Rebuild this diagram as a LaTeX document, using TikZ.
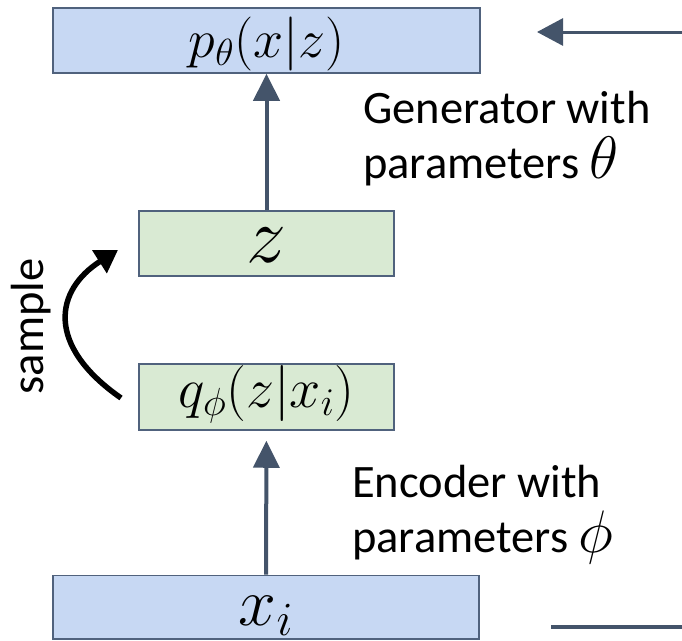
\RequirePackage{fix-cm}
\documentclass[tikz,border=0pt]{standalone}
\usepackage{fontspec}
\setmainfont{Carlito}
\usetikzlibrary{arrows.meta}

\definecolor{boxblue}{HTML}{C7D8F3}
\definecolor{boxgreen}{HTML}{D9EAD3}
\definecolor{edgeslate}{HTML}{50627D}
\definecolor{arrowslate}{HTML}{44546A}

\newcommand{\bigtext}{\fontsize{46.5}{55}\selectfont}

\begin{document}
\begin{tikzpicture}[x=1pt, y=-1pt,
  varbox/.style={draw=edgeslate, line width=1.5pt, inner sep=0pt, align=center},
  bluebox/.style={varbox, fill=boxblue},
  greenbox/.style={varbox, fill=boxgreen},
  flow/.style={draw=arrowslate, line width=4pt, -{Triangle[length=27pt, width=26pt]}},
  sidetext/.style={anchor=base west, inner sep=0pt, font=\bigtext},
  samplearrow/.style={draw=black, line width=5.5pt, -{Triangle[length=22pt, width=26pt]}}
]
\useasboundingbox (0,0) rectangle (682,640);

% variable boxes
\node[bluebox, minimum width=427pt, minimum height=65pt, text height=40pt, text depth=7pt]
  (px) at (266.5,40.5) {\fontsize{54}{60}\selectfont$p_\theta(x|z)$};
\node[greenbox, minimum width=255pt, minimum height=65pt, text height=45pt, text depth=8pt]
  (z) at (266.5,243.5) {\fontsize{80}{80}\selectfont$z$};
\node[greenbox, minimum width=255pt, minimum height=66pt, text height=35pt, text depth=14pt]
  (q) at (266.5,397) {\fontsize{56}{60}\selectfont$q_\phi(z|x_i)$};
\node[bluebox, minimum width=426pt, minimum height=63.5pt, text height=42pt, text depth=6pt]
  (xi) at (266,607) {\fontsize{68}{70}\selectfont$x_i$};

% encoder and generator connections
\draw[flow, shorten >=10pt] (xi) -- (q);
\draw[flow] (z) -- (px);

% sampling step
\draw[samplearrow] (121,398) .. controls (45,345) and (55,290) .. (118,250);
\node[rotate=90, anchor=base, inner sep=0pt, font=\bigtext] (sample) at (43,326.5) {sample};

% network labels
\node[sidetext] (gen1) at (363,123) {Generator with};
\node[sidetext] (gen2) at (363,178) {parameters {\fontsize{60}{60}\selectfont$\theta$}};
\node[sidetext] (enc1) at (352,497) {Encoder with};
\node[sidetext] (enc2) at (352,552) {parameters {\fontsize{60}{60}\selectfont$\phi$}};

% side connectors
\coordinate (inR) at (682,32);
\coordinate (inTip) at (537,32);
\draw[draw=arrowslate, line width=3pt, -{Triangle[length=26pt, width=27pt]}] (inR) -- (inTip);
\coordinate (outL) at (551,627);
\coordinate (outR) at (682,627);
\draw[draw=arrowslate, line width=4pt] (outL) -- (outR);
\end{tikzpicture}
\end{document}
